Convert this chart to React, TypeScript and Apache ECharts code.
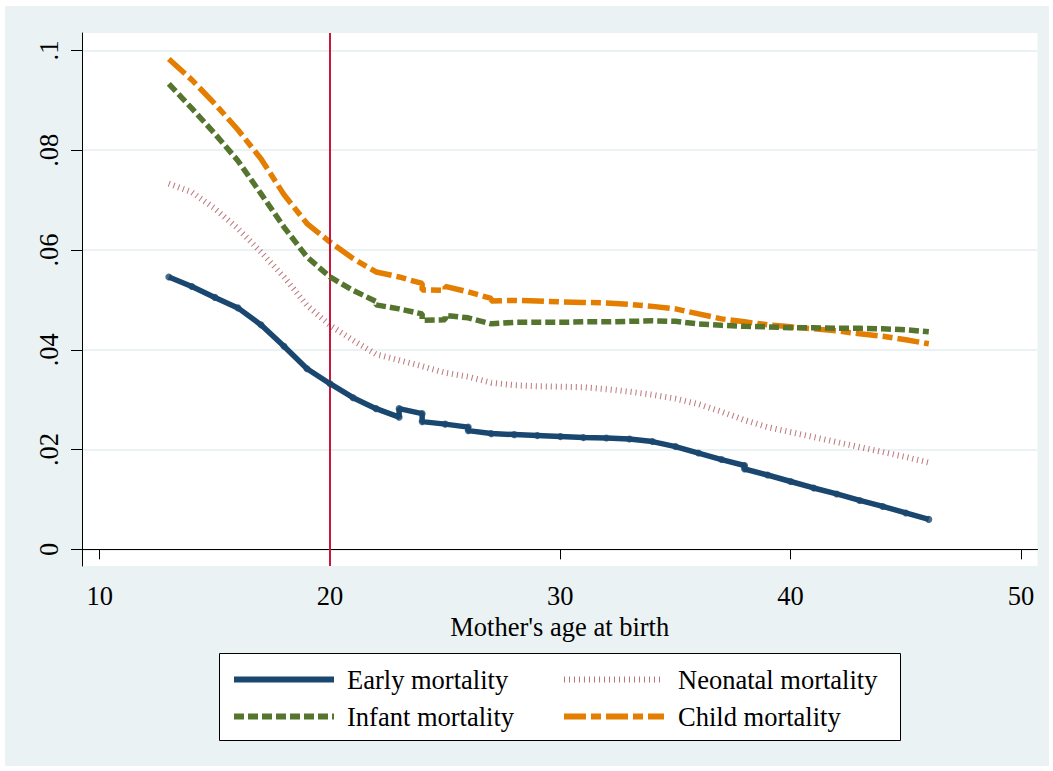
import React, { useEffect, useRef } from "react";
import * as echarts from "echarts";

const earlyAges = [13, 14, 15, 16, 17, 18, 19, 20, 21, 22, 23, 23, 24, 24, 25, 26, 26, 27, 28, 29, 30, 31, 32, 33, 34, 35, 36, 37, 38, 38, 39, 40, 41, 42, 43, 44, 45, 46];
const earlyRates = [0.0546, 0.0527, 0.0505, 0.0484, 0.045, 0.0407, 0.0362, 0.0332, 0.0304, 0.0282, 0.0265, 0.0282, 0.0272, 0.0256, 0.0251, 0.0245, 0.0238, 0.0232, 0.0230, 0.0228, 0.0226, 0.0224, 0.0223, 0.0221, 0.0216, 0.0206, 0.0193, 0.018, 0.0168, 0.0161, 0.0149, 0.0136, 0.0123, 0.0111, 0.0098, 0.0086, 0.0073, 0.006];

const neoAges = [13, 14, 15, 16, 17, 18, 19, 20, 21, 22, 23, 24, 25, 26, 27, 28, 29, 30, 31, 32, 33, 34, 35, 36, 37, 38, 39, 40, 41, 42, 43, 44, 45, 46];
const neoRates = [0.0733, 0.0716, 0.0683, 0.0643, 0.0596, 0.0546, 0.0489, 0.0449, 0.0419, 0.0391, 0.0379, 0.0367, 0.0354, 0.0346, 0.0334, 0.0329, 0.0327, 0.0326, 0.0325, 0.0321, 0.0316, 0.031, 0.0302, 0.0291, 0.0276, 0.0259, 0.0245, 0.0235, 0.0225, 0.0215, 0.0205, 0.0195, 0.0185, 0.0174];

const infantAges = [13, 14, 15, 16, 17, 18, 19, 20, 21, 22, 22, 23, 24, 24, 25, 25, 26, 27, 28, 29, 30, 31, 32, 33, 34, 35, 36, 37, 38, 39, 40, 41, 42, 43, 44, 45, 46];
const infantRates = [0.0933, 0.0884, 0.0833, 0.0779, 0.0713, 0.0646, 0.0586, 0.0546, 0.0519, 0.0497, 0.049, 0.0482, 0.0472, 0.0459, 0.046, 0.0469, 0.0464, 0.0452, 0.0455, 0.0455, 0.0455, 0.0456, 0.0456, 0.0457, 0.0458, 0.0457, 0.0452, 0.0449, 0.0447, 0.0446, 0.0444, 0.0444, 0.0443, 0.0443, 0.0442, 0.044, 0.0436];

const childAges = [13, 14, 15, 16, 17, 18, 19, 20, 21, 22, 23, 24, 24, 25, 25, 26, 27, 27, 28, 29, 30, 31, 32, 33, 34, 35, 36, 37, 38, 39, 40, 41, 42, 43, 44, 45, 46];
const childRates = [0.0983, 0.0941, 0.0893, 0.0841, 0.0783, 0.0711, 0.0653, 0.0616, 0.0583, 0.0556, 0.0546, 0.0533, 0.052, 0.0519, 0.0527, 0.0516, 0.0503, 0.0498, 0.0499, 0.0498, 0.0496, 0.0495, 0.0494, 0.0491, 0.0487, 0.0482, 0.0472, 0.0462, 0.0456, 0.045, 0.0446, 0.0442, 0.0438, 0.0432, 0.0427, 0.042, 0.0412];

const xTicks = [10, 20, 30, 40, 50];
const yTicks = [0, 0.02, 0.04, 0.06, 0.08, 0.1];
const cutoffAge = 20;

const FONT = "'Liberation Serif', 'DejaVu Serif', serif";
const FS = 26.5;

const zip = (a: number[], b: number[]) => a.map((v, i) => [v, b[i]]);

export default function App() {
  const ref = useRef<HTMLDivElement>(null);
  useEffect(() => {
    if (!ref.current) return;
    const chart = echarts.init(ref.current, null, { renderer: "svg" });
    const legendBase = {
      orient: "vertical",
      top: 666,
      padding: 0,
      itemWidth: 100,
      itemHeight: 22,
      itemGap: 10,
      itemStyle: { opacity: 0 },
      lineStyle: { width: 6 },
    };
    chart.setOption({
      animation: false,
      backgroundColor: "#ffffff",
      textStyle: { fontFamily: FONT },
      graphic: [
        { type: "rect", z: -100, shape: { x: 5, y: 6, width: 1044, height: 760 }, style: { fill: "#eaf2f3" } },
        { type: "rect", z: 1, shape: { x: 219.5, y: 653.5, width: 681, height: 87 }, style: { fill: "#ffffff", stroke: "#000000", lineWidth: 1 } },
      ],
      grid: {
        left: 82,
        right: 15.5,
        top: 33,
        bottom: 205,
        show: true,
        backgroundColor: "#ffffff",
        borderWidth: 0,
        outerBoundsMode: "none",
        containLabel: false,
      },
      xAxis: {
        type: "value",
        min: 9.23,
        max: 50.72,
        name: "Mother's age at birth",
        nameLocation: "middle",
        nameGap: 44,
        nameTextStyle: { fontSize: FS, color: "#000", fontFamily: FONT },
        axisLine: { show: true, lineStyle: { color: "#000", width: 1 } },
        axisTick: { show: true, length: 10, customValues: xTicks, lineStyle: { color: "#000" } },
        axisLabel: { customValues: xTicks, fontSize: FS, color: "#000", margin: 16, fontFamily: FONT },
        splitLine: { show: false },
      },
      yAxis: {
        type: "value",
        min: -0.00334,
        max: 0.1035,
        axisLine: { show: true, lineStyle: { color: "#000", width: 1 } },
        axisTick: { show: true, length: 11, customValues: yTicks, lineStyle: { color: "#000" } },
        axisLabel: {
          customValues: yTicks,
          rotate: 90,
          fontSize: FS,
          color: "#000",
          margin: 20,
          fontFamily: FONT,
          formatter: (v: number) => (v === 0 ? "0" : String(Number(v.toFixed(2))).replace(/^0\./, ".")),
        },
        splitLine: { show: true, lineStyle: { color: "#eaf2f3", width: 2 } },
      },
      legend: [
        {
          ...legendBase,
          left: 231,
          data: ["Early mortality", "Infant mortality"],
          textStyle: { fontSize: FS, color: "#000", fontFamily: FONT, padding: [0, 0, 0, 8] },
        },
        {
          ...legendBase,
          left: 561,
          data: ["Neonatal mortality", "Child mortality"],
          textStyle: { fontSize: FS, color: "#000", fontFamily: FONT, padding: [0, 0, 0, 9] },
        },
      ],
      series: [
        {
          name: "Neonatal mortality",
          type: "line",
          data: zip(neoAges, neoRates),
          symbol: "none",
          z: 3,
          lineStyle: { color: "#a4474f", width: 6, type: [1, 4], opacity: 0.75 },
          itemStyle: { color: "#a4474f" },
        },
        {
          name: "Child mortality",
          type: "line",
          data: zip(childAges, childRates),
          symbol: "none",
          z: 4,
          lineStyle: { color: "#e37e00", width: 5.5, type: [22, 5, 10, 5] },
          itemStyle: { color: "#e37e00" },
        },
        {
          name: "Infant mortality",
          type: "line",
          data: zip(infantAges, infantRates),
          symbol: "none",
          z: 5,
          lineStyle: { color: "#55752f", width: 5.5, type: [10, 4] },
          itemStyle: { color: "#55752f" },
        },
        {
          name: "Early mortality",
          type: "line",
          data: zip(earlyAges, earlyRates),
          symbol: "none",
          z: 6,
          lineStyle: { color: "#1a476f", width: 5.5, type: "solid" },
          itemStyle: { color: "#1a476f" },
          markLine: {
            silent: true,
            symbol: "none",
            label: { show: false },
            lineStyle: { color: "#c8163c", width: 2, type: "solid" },
            data: [{ xAxis: cutoffAge }],
          },
        },
        {
          name: "early-points",
          type: "scatter",
          data: zip(earlyAges, earlyRates),
          symbol: "circle",
          symbolSize: 7,
          z: 7,
          itemStyle: { color: "#1a476f" },
        },
      ],
    });
    return () => chart.dispose();
  }, []);
  return <div ref={ref} style={{ position: "absolute", left: 0, top: 0, width: 1053, height: 771 }} />;
}
